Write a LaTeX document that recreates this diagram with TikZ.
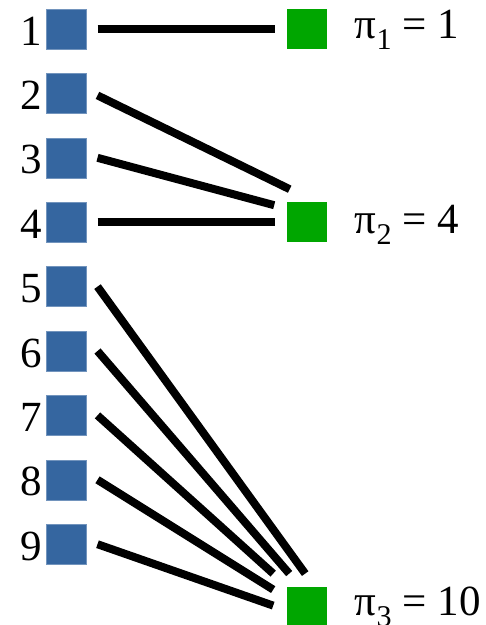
\documentclass[tikz,border=0pt]{standalone}
\usepackage{fontspec}
\setmainfont{Liberation Serif}
\usetikzlibrary{positioning}
\definecolor{itemblue}{RGB}{53,102,160}
\definecolor{bingreen}{RGB}{0,166,0}

\begin{document}
\begin{tikzpicture}[
  x=1pt, y=-1pt,
  font=\fontsize{43}{50}\selectfont,
  item/.style={fill=itemblue, draw=itemblue!70!white, line width=.4pt,
               minimum size=40pt, inner sep=0pt},
  bin/.style={fill=bingreen, minimum size=40pt, inner sep=0pt},
  num/.style={inner sep=0pt, anchor=base east},
  val/.style={inner sep=0pt, anchor=base west},
  edge/.style={line width=8pt, draw=black},
  node distance=24pt,
]
\useasboundingbox (0,0) rectangle (486,625);

% items
\node[item] at (66.3,29) (b1) {};
\node[item, below=of b1] (b2) {};
\node[item, below=of b2] (b3) {};
\node[item, below=of b3] (b4) {};
\node[item, below=of b4] (b5) {};
\node[item, below=of b5] (b6) {};
\node[item, below=of b6] (b7) {};
\node[item, below=of b7] (b8) {};
\node[item, below=of b8] (b9) {};

\node[num] at ([xshift=-4pt, yshift=-16pt]b1.west) (n1) {1};
\node[num] at ([xshift=-4pt, yshift=-16pt]b2.west) (n2) {2};
\node[num] at ([xshift=-4pt, yshift=-16pt]b3.west) (n3) {3};
\node[num] at ([xshift=-4pt, yshift=-16pt]b4.west) (n4) {4};
\node[num] at ([xshift=-4pt, yshift=-16pt]b5.west) (n5) {5};
\node[num] at ([xshift=-4pt, yshift=-16pt]b6.west) (n6) {6};
\node[num] at ([xshift=-4pt, yshift=-16pt]b7.west) (n7) {7};
\node[num] at ([xshift=-4pt, yshift=-16pt]b8.west) (n8) {8};
\node[num] at ([xshift=-4pt, yshift=-16pt]b9.west) (n9) {9};

% bins
\node[bin, right=200pt of b1] (g1) {};
\node[bin, right=200pt of b4] (g2) {};
\node[bin, below=344pt of g2] (g3) {};

\node[val] at ([xshift=48pt, yshift=-9pt]g1.center) (p1) {π\textsubscript{1} = 1};
\node[val] at ([xshift=48pt, yshift=-11pt]g2.center) (p2) {π\textsubscript{2} = 4};
\node[val] at ([xshift=48pt, yshift=-9pt]g3.center) (p3) {π\textsubscript{3} = 10};

% assignments
\draw[edge] ([xshift=11pt]b1.east) -- ([xshift=-12pt]g1.west);
\draw[edge] ([xshift=11pt, yshift=-2pt]b2.east) -- ([shift={(-17,-33)}]g2.center);
\draw[edge] ([xshift=11pt]b3.east) -- ([shift={(-32.5,-17)}]g2.center);
\draw[edge] ([xshift=11pt]b4.east) -- ([xshift=-12pt]g2.west);
\draw[edge] ([xshift=11pt]b5.east) -- ([shift={(-1.5,-33)}]g3.center);
\draw[edge] ([xshift=11pt]b6.east) -- ([shift={(-17.5,-33)}]g3.center);
\draw[edge] ([xshift=11pt]b7.east) -- ([shift={(-33.5,-33)}]g3.center);
\draw[edge] ([xshift=11pt]b8.east) -- ([shift={(-33.5,-17)}]g3.center);
\draw[edge] ([xshift=11pt]b9.east) -- ([shift={(-33.5,-1)}]g3.center);
\end{tikzpicture}
\end{document}
